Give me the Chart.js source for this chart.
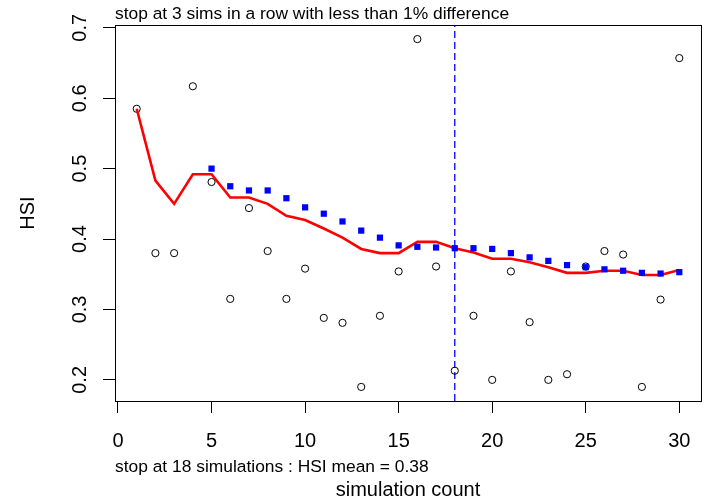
<!DOCTYPE html>
<html><head><meta charset="utf-8">
<script src="https://cdn.jsdelivr.net/npm/chart.js@4.4.0/dist/chart.umd.min.js"></script>
<style>html,body{margin:0;padding:0;background:#fff}canvas{display:block}</style>
</head><body>
<canvas id="c" width="708" height="503"></canvas>
<script>
// ---- data ----
const simCount = [1,2,3,4,5,6,7,8,9,10,11,12,13,14,15,16,17,18,19,20,21,22,23,24,25,26,27,28,29,30];
const hsiValues = [0.585,0.380,0.380,0.617,0.481,0.315,0.444,0.383,0.315,0.358,0.288,0.281,0.190,0.291,0.354,
                   0.684,0.361,0.213,0.291,0.200,0.354,0.282,0.200,0.208,0.361,0.383,0.378,0.190,0.314,0.657];
const runningMean = [0.585,0.483,0.450,0.492,0.492,0.459,0.459,0.450,0.433,0.427,0.415,0.402,0.386,0.380,0.380,
                     0.396,0.396,0.387,0.381,0.372,0.372,0.367,0.360,0.352,0.352,0.355,0.355,0.349,0.349,0.356];
const windowSims = [5,6,7,8,9,10,11,12,13,14,15,16,17,18,19,20,21,22,23,24,25,26,27,28,29,30];
const windowMean = [0.500,0.475,0.469,0.469,0.458,0.445,0.436,0.425,0.412,0.402,0.391,0.389,0.388,
                    0.387,0.387,0.386,0.380,0.374,0.369,0.363,0.360,0.357,0.355,0.352,0.351,0.353];
const stopAt = 18;
const xTicks = [0,5,10,15,20,25,30];
const yTicks = [0.2,0.3,0.4,0.5,0.6,0.7];
const titleText = "stop at 3 sims in a row with less than 1% difference";
const noteText = "stop at 18 simulations : HSI mean = 0.38";
const xLabel = "simulation count";
const yLabel = "HSI";
const xRange = [-0.16, 31.16];
const yRange = [0.170, 0.704];

const FONT = "'Liberation Sans', Arial, sans-serif";

const extras = {
  id: 'extras',
  afterDatasetsDraw(chart) {
    const {ctx, chartArea: a} = chart;
    ctx.save();
    ctx.strokeStyle = '#000';
    ctx.lineWidth = 1;
    ctx.strokeRect(a.left + 0.5, a.top + 0.5, a.right - a.left, a.bottom - a.top);
    ctx.restore();
  },
  afterDraw(chart) {
    const {ctx, chartArea: a, scales} = chart;
    ctx.save();
    ctx.fillStyle = '#000';
    // y tick labels, rotated parallel to the axis
    ctx.font = "20px " + FONT;
    ctx.textAlign = 'center';
    ctx.textBaseline = 'alphabetic';
    yTicks.forEach(v => {
      const y = scales.y.getPixelForValue(v);
      ctx.save();
      ctx.translate(86, y);
      ctx.rotate(-Math.PI / 2);
      ctx.fillText(String(v), 0, 0);
      ctx.restore();
    });
    ctx.textAlign = 'left';
    ctx.font = "17.4px " + FONT;
    ctx.fillText(titleText, a.left, 19);
    ctx.fillText(noteText, a.left, 472);
    ctx.restore();
  }
};

new Chart(document.getElementById('c'), {
  data: {
    datasets: [
      {
        type: 'scatter',
        data: windowSims.map((s, i) => ({x: s, y: windowMean[i]})),
        pointStyle: 'rect', pointRadius: 4.4, pointHoverRadius: 4.4,
        backgroundColor: '#0000ff', borderWidth: 0
      },
      {
        type: 'line',
        data: simCount.map((s, i) => ({x: s, y: runningMean[i]})),
        borderColor: '#ff0000', borderWidth: 2.6, pointRadius: 0, tension: 0, fill: false
      },
      {
        type: 'scatter',
        data: simCount.map((s, i) => ({x: s, y: hsiValues[i]})),
        pointStyle: 'circle', pointRadius: 3.6, pointHoverRadius: 3.6,
        borderColor: '#000', borderWidth: 1, backgroundColor: 'rgba(0,0,0,0)'
      },
      {
        type: 'line',
        data: [{x: stopAt, y: yRange[0]}, {x: stopAt, y: yRange[1]}],
        borderColor: '#0000ff', borderWidth: 1.3, borderDash: [7, 4], pointRadius: 0, fill: false
      }
    ]
  },
  options: {
    responsive: false,
    devicePixelRatio: 1,
    animation: false,
    events: [],
    layout: {padding: {top: 25, right: 7, left: 0, bottom: 0}},
    plugins: {legend: {display: false}, tooltip: {enabled: false}, title: {display: false}},
    scales: {
      x: {
        type: 'linear', min: xRange[0], max: xRange[1],
        afterBuildTicks: s => { s.ticks = xTicks.map(v => ({value: v})); },
        afterFit: s => { s.height = 102; },
        ticks: {font: {family: FONT, size: 20}, color: '#000', padding: 16, maxRotation: 0, autoSkip: false,
                callback: v => String(v)},
        grid: {drawOnChartArea: false, drawTicks: true, tickLength: 12, color: '#000', tickColor: '#000', lineWidth: 1},
        border: {display: false},
        title: {display: true, text: xLabel, font: {family: FONT, size: 20}, color: '#000', padding: {top: 0, bottom: 1}}
      },
      y: {
        type: 'linear', min: yRange[0], max: yRange[1],
        afterBuildTicks: s => { s.ticks = yTicks.map(v => ({value: v})); },
        afterFit: s => { s.width = 115; },
        ticks: {font: {family: FONT, size: 20}, color: 'rgba(0,0,0,0)', autoSkip: false},
        grid: {drawOnChartArea: false, drawTicks: true, tickLength: 12, color: '#000', tickColor: '#000', lineWidth: 1},
        border: {display: false},
        title: {display: true, text: yLabel, font: {family: FONT, size: 20}, color: '#000', padding: {top: 16.5, bottom: 0}}
      }
    }
  },
  plugins: [extras]
});
</script>
</body></html>
